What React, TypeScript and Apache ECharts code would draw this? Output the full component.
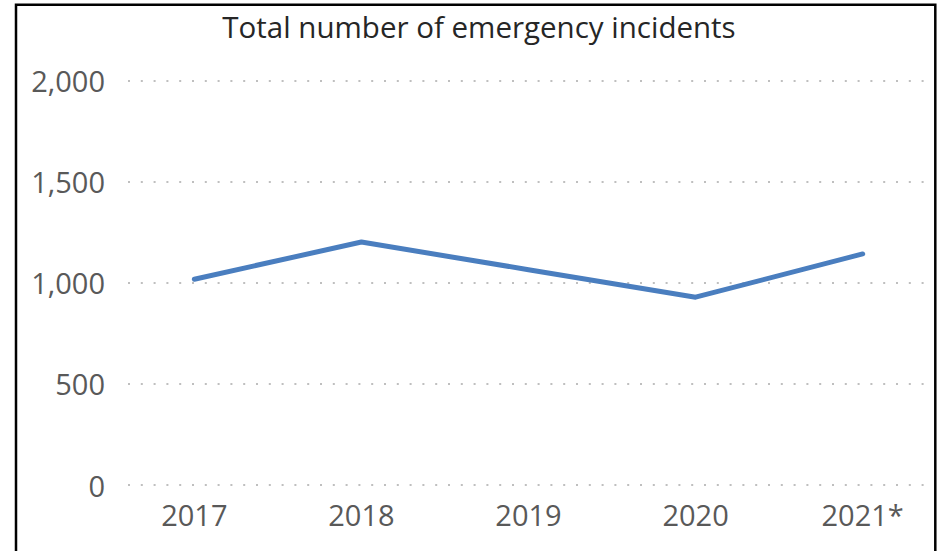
import React, { useEffect, useRef } from "react";
import * as echarts from "echarts";

const title = "Total number of emergency incidents";
const categories = ["2017", "2018", "2019", "2020", "2021*"];
const incidents = [1018, 1202, 1065, 929, 1143];
const yTicks = [0, 500, 1000, 1500, 2000];

export default function App() {
  const ref = useRef<HTMLDivElement>(null);
  useEffect(() => {
    if (!ref.current) return;
    const chart = echarts.init(ref.current, null, { renderer: "svg" });
    const font = "'Open Sans', 'Noto Sans', sans-serif";
    chart.setOption({
      animation: false,
      title: {
        text: title,
        left: 474,
        textAlign: "center",
        top: 6,
        textStyle: { fontFamily: font, fontSize: 29.5, fontWeight: "normal", color: "#262626" },
      },
      grid: { left: 128, right: 18, top: 80.7, bottom: 551 - 485 },
      xAxis: {
        type: "value",
        min: -0.397,
        max: 4.373,
        splitLine: { show: false },
        axisLine: { show: false },
        axisTick: { show: false },
        axisLabel: {
          customValues: categories.map((_, i) => i),
          formatter: (v: number) => categories[Math.round(v)] ?? "",
          fontFamily: font,
          fontSize: 29,
          color: "#595959",
          margin: 15,
        },
      },
      yAxis: {
        type: "value",
        min: yTicks[0],
        max: yTicks[yTicks.length - 1],
        interval: 500,
        axisLine: { show: false },
        axisTick: { show: false },
        axisLabel: {
          fontFamily: font,
          fontSize: 29,
          color: "#595959",
          margin: 23,
          formatter: (v: number) => v.toLocaleString("en-US"),
        },
        splitLine: {
          show: true,
          lineStyle: { color: "#bfbfbf", width: 2, type: [2, 10.8] },
        },
      },
      series: [
        {
          type: "line",
          data: categories.map((_, i) => [i, incidents[i]]),
          showSymbol: false,
          symbol: "none",
          lineStyle: { color: "#4a7ebf", width: 5, cap: "round", join: "round" },
        },
      ],
      graphic: [
        {
          type: "rect",
          shape: { x: 16, y: 4.7, width: 919.3, height: 600 },
          style: { fill: "none", stroke: "#000000", lineWidth: 2.5 },
          silent: true,
        },
      ],
    });
    return () => chart.dispose();
  }, []);
  return (
    <div
      ref={ref}
      style={{ position: "fixed", left: 0, top: 0, width: 943, height: 551, background: "#ffffff" }}
    />
  );
}
